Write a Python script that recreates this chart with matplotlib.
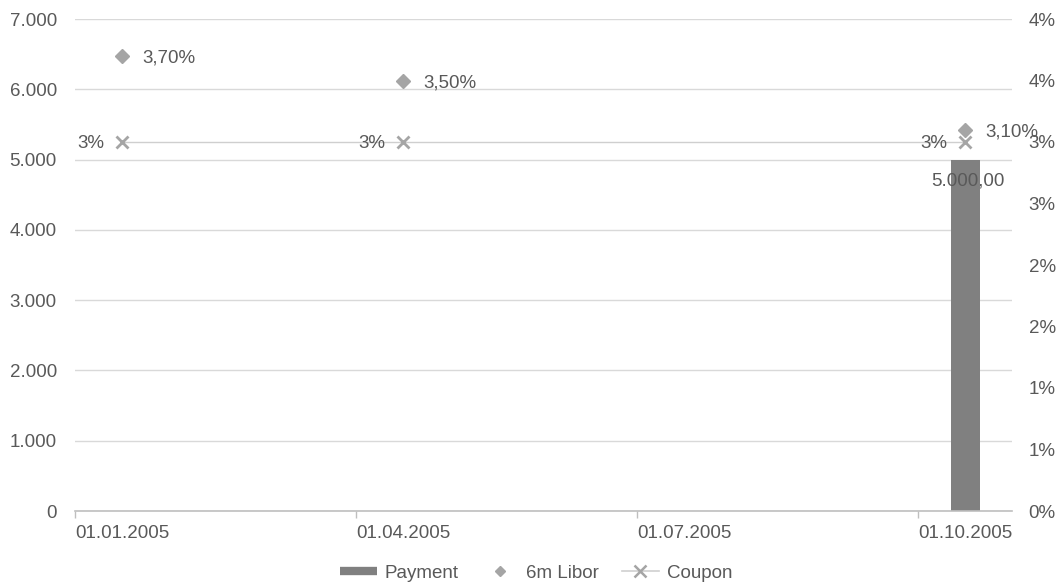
import matplotlib
matplotlib.use("Agg")
import math
import numpy as np
import matplotlib.pyplot as plt
from matplotlib.lines import Line2D
from matplotlib.ticker import FixedLocator, FuncFormatter

plt.rcParams["font.family"] = ["Liberation Sans", "DejaVu Sans"]

# ---- data -------------------------------------------------------------
point_dates = ["2005-01-15", "2005-04-15", "2005-10-15"]
libor_pct = [3.70, 3.50, 3.10]
coupon_pct = [3.0, 3.0, 3.0]

payment_dates = ["2005-10-15"]
payment_amounts = [5000.0]

axis_tick_dates = ["2005-01-01", "2005-04-01", "2005-07-01", "2005-10-01"]
axis_start, axis_end = "2005-01", "2005-11"   # monthly base unit

amount_ticks = [0, 1000, 2000, 3000, 4000, 5000, 6000, 7000]
pct_ticks = [0, 0.5, 1.0, 1.5, 2.0, 2.5, 3.0, 3.5, 4.0]

# ---- styling ----------------------------------------------------------
TEXT = "#595959"
GRID = "#d9d9d9"
AXIS = "#bfbfbf"
BAR = "#808080"
MARK = "#a5a5a5"
LINE = "#cfcfcf"
FS = 13.5

ORIGIN = np.datetime64(axis_start, "M")


def month_slot(dates):
    # date axis with a base unit of months: each month is one slot,
    # values sit in the middle of their month's slot
    months = np.array(dates, dtype="datetime64[D]").astype("datetime64[M]")
    return (months - ORIGIN).astype(int) + 0.5


def month_edge(dates):
    months = np.array(dates, dtype="datetime64[D]").astype("datetime64[M]")
    return (months - ORIGIN).astype(int).astype(float)


def de_int(v):
    return f"{v:,.0f}".replace(",", ".")


def de_money(v):
    return f"{v:,.2f}".replace(",", "X").replace(".", ",").replace("X", ".")


def de_pct(v, decimals):
    if decimals == 0:
        return f"{int(math.floor(v + 0.5))}%"
    return f"{v:.{decimals}f}%".replace(".", ",")


W, H = 1057, 587
fig = plt.figure(figsize=(W / 100, H / 100), dpi=100)
fig.patch.set_facecolor("white")
ax = fig.add_axes([75 / W, 76 / H, (1012 - 75) / W, (511 - 19) / H])
ax2 = ax.twinx()

# primary axis: payments
ax.set_ylim(0, 7000)
ax.set_xlim(0, (np.datetime64(axis_end, "M") - ORIGIN).astype(int))
ax.yaxis.set_major_locator(FixedLocator(amount_ticks))
ax.yaxis.set_major_formatter(FuncFormatter(lambda v, p: de_int(v)))
ax.grid(axis="y", color=GRID, lw=1.0, zorder=0)
ax.set_axisbelow(True)

xp = month_slot(payment_dates)
ax.bar(xp, payment_amounts, width=0.31, color=BAR, zorder=2)
for x, v in zip(xp, payment_amounts):
    ax.annotate(de_money(v), (x, v), xytext=(3, -21), textcoords="offset pixels",
                ha="center", va="center", fontsize=FS, color=TEXT, zorder=5)

ax.set_xticks(month_edge(axis_tick_dates))
ax.set_xticklabels([np.datetime64(d).astype(object).strftime("%d.%m.%Y")
                    for d in axis_tick_dates], ha="left")
ax.tick_params(axis="x", colors=AXIS, labelcolor=TEXT, labelsize=FS,
               length=5, width=1, pad=5)
ax.tick_params(axis="y", length=0, labelcolor=TEXT, labelsize=FS, pad=13)

for s in ["top", "left", "right"]:
    ax.spines[s].set_visible(False)
ax.spines["bottom"].set_color(AXIS)
ax.spines["bottom"].set_linewidth(1.2)

# secondary axis: rates
ax2.set_ylim(0, 4)
ax2.yaxis.set_major_locator(FixedLocator(pct_ticks))
ax2.yaxis.set_major_formatter(FuncFormatter(lambda v, p: de_pct(v, 0)))
ax2.tick_params(axis="y", length=0, labelcolor=TEXT, labelsize=FS, pad=12)
for s in ["top", "left", "right", "bottom"]:
    ax2.spines[s].set_visible(False)

xr = month_slot(point_dates)
ax2.plot(xr, coupon_pct, color=LINE, lw=1.0, marker="x", ms=9,
         mec=MARK, mew=2.0, zorder=3)
ax2.plot(xr, libor_pct, ls="none", marker="D", ms=7.5, color=MARK, zorder=4)

for x, v in zip(xr, libor_pct):
    ax2.annotate(de_pct(v, 2), (x, v), xytext=(20, 0), textcoords="offset pixels",
                 ha="left", va="center_baseline", fontsize=FS, color=TEXT)
for x, v in zip(xr, coupon_pct):
    ax2.annotate(de_pct(v, 0), (x, v), xytext=(-18, 0), textcoords="offset pixels",
                 ha="right", va="center_baseline", fontsize=FS, color=TEXT)

handles = [
    Line2D([], [], color=BAR, lw=6, solid_capstyle="butt"),
    Line2D([], [], ls="none", marker="D", ms=5.5, color=MARK),
    Line2D([], [], color=LINE, lw=1.2, marker="x", ms=8, mec=MARK, mew=1.8),
]
fig.legend(handles, ["Payment", "6m Libor", "Coupon"], loc="center",
           bbox_to_anchor=(536 / W, 1 - 573 / H), ncol=3, frameon=False,
           fontsize=FS, labelcolor=TEXT, handlelength=2.0,
           handletextpad=0.4, columnspacing=1.2)

fig.savefig("out.png", dpi=100, facecolor="white")
